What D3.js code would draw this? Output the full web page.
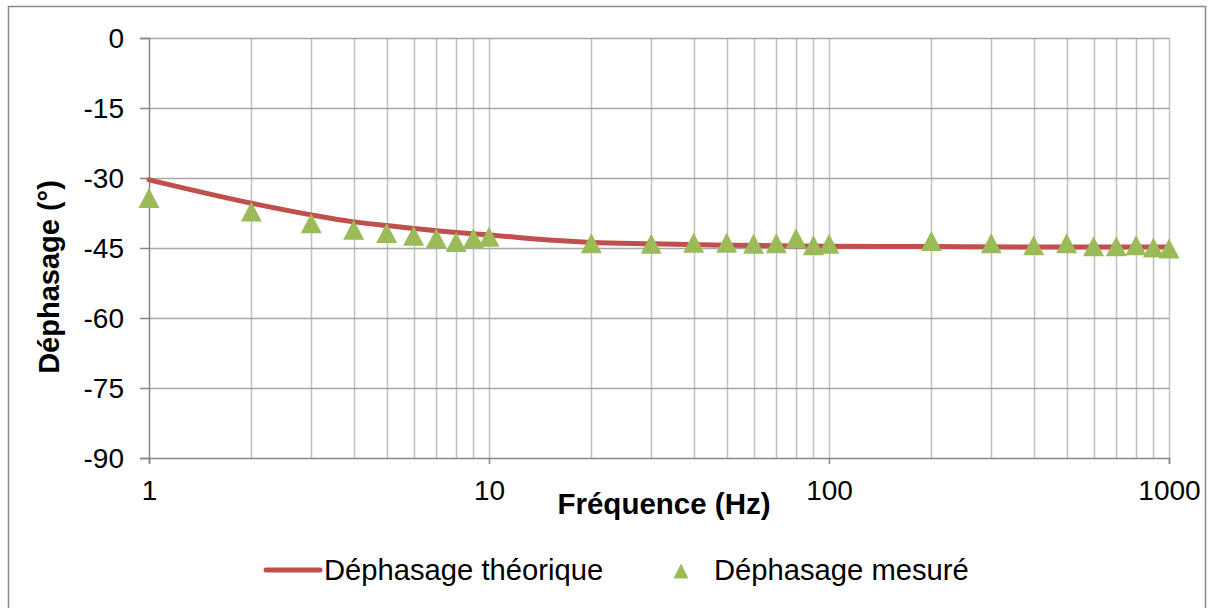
<!DOCTYPE html>
<html><head><meta charset="utf-8">
<script src="https://cdn.jsdelivr.net/npm/d3@7"></script>
<style>body{margin:0;background:#fff;font-family:"Liberation Sans",Arial,sans-serif}</style>
</head><body><svg id="c" width="1214" height="608"></svg>
<script>
const theoFreq = [1,2,3,4,5,6,7,8,10,15,20,30,50,100,200,500,1000];
const theoPhase = [-30.4,-35.4,-37.9,-39.4,-40.2,-40.8,-41.3,-41.7,-42.2,-43.3,-43.8,-44.1,-44.4,-44.6,-44.7,-44.8,-44.8];
const measFreq = [1,2,3,4,5,6,7,8,9,10,20,30,40,50,60,70,80,90,100,200,300,400,500,600,700,800,900,1000];
const measPhase = [-34.3,-37.2,-39.7,-41.1,-41.8,-42.4,-42.9,-43.7,-42.9,-42.6,-44.0,-44.1,-43.9,-43.9,-44.1,-44.0,-42.9,-44.4,-44.1,-43.5,-44.0,-44.4,-44.0,-44.6,-44.6,-44.4,-44.9,-45.1];
const yTicks = [0,-15,-30,-45,-60,-75,-90];
const xTicks = [1,10,100,1000];
const legendLabels = ["Déphasage théorique","Déphasage mesuré"];

const svg = d3.select("#c");
const FONT = "Liberation Sans, Arial, sans-serif";
const L=149,R=1169,T=38,B=458;
const x = d3.scaleLog().domain([1,1000]).range([L,R]);
const y = d3.scaleLinear().domain([-90,0]).range([B,T]);

svg.append("rect").attr("x",8.5).attr("y",6.5).attr("width",1197).attr("height",610)
  .attr("fill","#fff").attr("stroke","#898989").attr("stroke-width",1.5);

// vertical grid
const minor=[];
for(let d=1;d<1000;d*=10) for(let k=2;k<=10;k++) minor.push(d*k);
svg.append("g").selectAll("line").data(minor).join("line")
  .attr("x1",d=>Math.round(x(d))+0.5).attr("x2",d=>Math.round(x(d))+0.5)
  .attr("y1",T).attr("y2",B).attr("stroke","#bfbfbf").attr("stroke-width",1.5);
// horizontal grid
svg.append("g").selectAll("line").data(yTicks.filter(v=>v>-90)).join("line")
  .attr("x1",L).attr("x2",R).attr("y1",d=>Math.round(y(d))+0.5).attr("y2",d=>Math.round(y(d))+0.5)
  .attr("stroke","#a6a6a6").attr("stroke-width",1.5);

// axes
const yAx = svg.append("g").attr("transform",`translate(${L},0)`)
  .call(d3.axisLeft(y).tickValues(yTicks).tickSize(9).tickPadding(16).tickFormat(d=>String(d)));
const xAx = svg.append("g").attr("transform",`translate(0,${B})`)
  .call(d3.axisBottom(x).tickValues(xTicks).tickSize(6).tickPadding(16).tickFormat(d=>String(d)));
[yAx,xAx].forEach(g=>{
  g.select(".domain").attr("stroke","#868686").attr("stroke-width",1.5);
  g.selectAll(".tick line").attr("stroke","#868686").attr("stroke-width",1.5);
  g.selectAll("text").attr("font-size",28).attr("fill","#000").attr("font-family",FONT);
});
yAx.selectAll("text").attr("dy","0.35em");
xAx.selectAll("text").attr("dy","0.72em");

// line
const line = d3.line().x((d,i)=>x(theoFreq[i])).y(d=>y(d)).curve(d3.curveMonotoneX);
svg.append("path").datum(theoPhase).attr("d",line).attr("fill","none")
  .attr("stroke","#C0504D").attr("stroke-width",5).attr("stroke-linecap","round");

// markers (bbox-centred triangles)
const triPath = (w,h)=>`M0,${-h/2}L${w/2},${h/2}L${-w/2},${h/2}Z`;
svg.append("g").selectAll("path").data(measPhase).join("path")
  .attr("d",triPath(21,20)).attr("transform",(d,i)=>`translate(${x(measFreq[i])},${y(d)})`)
  .attr("fill","#9BBB59");

// titles
svg.append("text").attr("transform","translate(59,277) rotate(-90)").attr("text-anchor","middle")
  .attr("font-family",FONT).attr("font-size",29).attr("font-weight","bold").text("Déphasage (°)");
svg.append("text").attr("x",664).attr("y",514).attr("text-anchor","middle")
  .attr("font-family",FONT).attr("font-size",29.5).attr("font-weight","bold").text("Fréquence (Hz)");

// legend
svg.append("line").attr("x1",266).attr("x2",320).attr("y1",570).attr("y2",570)
  .attr("stroke","#C0504D").attr("stroke-width",5).attr("stroke-linecap","round");
svg.append("text").attr("x",324).attr("y",580).attr("font-family",FONT).attr("font-size",29.2).text(legendLabels[0]);
svg.append("path").attr("d",triPath(15,15)).attr("transform","translate(681,571)").attr("fill","#9BBB59");
svg.append("text").attr("x",714).attr("y",580).attr("font-family",FONT).attr("font-size",29.2).text(legendLabels[1]);
</script></body></html>
